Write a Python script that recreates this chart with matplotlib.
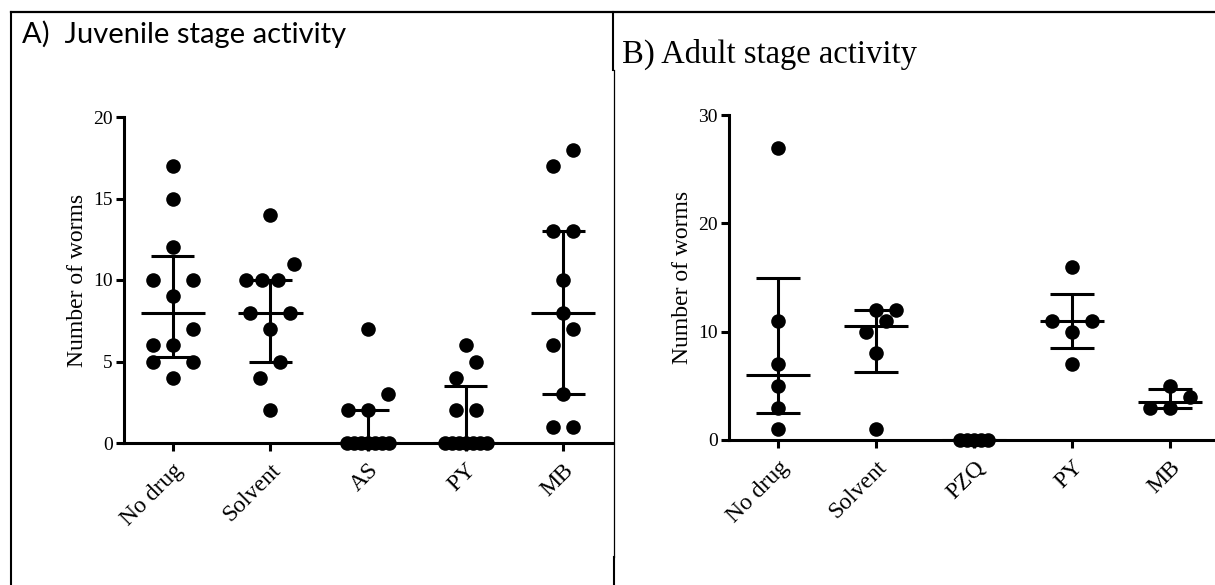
import matplotlib
matplotlib.use("Agg")
import matplotlib.pyplot as plt
import numpy as np
from matplotlib.lines import Line2D

# juvenile stage (panel A)
juv_groups = ["No drug", "Solvent", "AS", "PY", "MB"]
juv_no_drug = [17, 15, 12, 10, 10, 9, 7, 6, 6, 5, 5, 4]
juv_solvent = [14, 11, 10, 10, 10, 8, 8, 7, 5, 4, 2]
juv_as = [7, 3, 2, 2, 0, 0, 0, 0, 0, 0, 0]
juv_py = [6, 5, 4, 2, 2, 0, 0, 0, 0, 0, 0, 0]
juv_mb = [18, 17, 13, 13, 10, 8, 7, 6, 3, 1, 1]
juv_yticks = [0, 5, 10, 15, 20]

# adult stage (panel B)
adult_groups = ["No drug", "Solvent", "PZQ", "PY", "MB"]
adult_no_drug = [27, 11, 7, 5, 3, 1]
adult_solvent = [12, 12, 11, 10, 8, 1]
adult_pzq = [0, 0, 0, 0, 0]
adult_py = [16, 11, 11, 10, 7]
adult_mb = [5, 4, 3, 3]
adult_yticks = [0, 10, 20, 30]

W, H = 1215, 585
plt.rcParams["font.family"] = ["Liberation Serif", "DejaVu Serif"]

LW = 2.2


def swarm_offsets(vals, ypx, row_h=17.0, min_d=14.5):
    """Pixel x-offsets for a simple row-based beeswarm."""
    vals = np.asarray(vals, dtype=float)
    order = np.argsort(vals, kind="stable")
    rows = []
    for i in order:
        if rows and (vals[i] - vals[rows[-1][0]]) * ypx < row_h:
            rows[-1].append(i)
        else:
            rows.append([i])

    off = np.zeros(len(vals))
    placed = []
    for row in rows:
        k = len(row)
        rv = vals[row]
        if k > 3 and np.all(rv == rv[0]):
            step = 7.0
        elif k > 1:
            step = min(20.0, 48.0 / (k - 1))
        else:
            step = 0.0
        slots = sorted((np.arange(k) - (k - 1) / 2) * step, key=lambda s: (abs(s), s))
        for shift in (0, 10, -10, 20, -20, 30, -30, 40, -40):
            pos = [s + shift for s in slots]
            ok = all(
                np.hypot(p - q, (vals[i] - v) * ypx) >= min_d
                for p, i in zip(pos, row)
                for q, v in placed
            )
            if ok:
                break
        for p, i in zip(pos, row):
            off[i] = p
            placed.append((p, vals[i]))
    return off


def scatter_panel(ax, groups, data, yticks, tick_size=14, label_size=17):
    ax.set_xlim(-0.5, 4.5)
    ax.set_ylim(yticks[0], yticks[-1])
    pos = ax.get_position()
    xpx = pos.width * W / 5.0
    ypx = pos.height * H / (yticks[-1] - yticks[0])

    for j, vals in enumerate(data):
        vals = np.asarray(vals, dtype=float)
        off = swarm_offsets(vals, ypx)
        ax.plot(j + off / xpx, vals, "o", color="black", ms=10.5, mew=0,
                clip_on=False, zorder=3)
        # median with interquartile range
        q1, med, q3 = np.percentile(vals, [25, 50, 75], method="weibull")
        ax.vlines(j, q1, q3, color="black", lw=LW, zorder=4)
        ax.hlines([q1, q3], j - 0.22, j + 0.22, color="black", lw=LW, zorder=4)
        ax.hlines(med, j - 0.33, j + 0.33, color="black", lw=LW, zorder=4)

    for side in ("top", "right"):
        ax.spines[side].set_visible(False)
    for side in ("left", "bottom"):
        ax.spines[side].set_linewidth(LW)
    ax.set_yticks(yticks)
    ax.set_xticks(range(len(groups)))
    ax.set_xticklabels(groups, rotation=45, ha="right", rotation_mode="anchor",
                       fontsize=label_size)
    ax.tick_params(axis="both", direction="out", length=6, width=LW, color="black")
    ax.tick_params(axis="y", labelsize=tick_size, pad=2)
    ax.tick_params(axis="x", pad=6)
    ax.set_ylabel("Number of worms", fontsize=label_size, labelpad=4)


fig = plt.figure(figsize=(W / 100, H / 100), dpi=100)

ax_a = fig.add_axes([124 / W, 1 - 443 / H, (612 - 124) / W, (443 - 117) / H])
scatter_panel(ax_a, juv_groups,
              [juv_no_drug, juv_solvent, juv_as, juv_py, juv_mb], juv_yticks)

ax_b = fig.add_axes([729 / W, 1 - 440 / H, 490 / W, (440 - 115) / H])
scatter_panel(ax_b, adult_groups,
              [adult_no_drug, adult_solvent, adult_pzq, adult_py, adult_mb],
              adult_yticks)

# panel titles
fig.text(22 / W, 1 - 43 / H, "A)  Juvenile stage activity", fontsize=21,
         family=["Lato", "DejaVu Sans"], va="baseline", ha="left")
fig.text(622 / W, 1 - 63 / H, "B) Adult stage activity", fontsize=23.5,
         va="baseline", ha="left")

# table borders around the two panels
fig.add_artist(Line2D([11 / W, 1], [1 - 12 / H, 1 - 12 / H], color="black", lw=1.6))
fig.add_artist(Line2D([11 / W, 11 / W], [0, 1 - 12 / H], color="black", lw=1.5))
fig.add_artist(Line2D([613 / W, 613 / W], [1 - 70 / H, 1 - 12 / H], color="black", lw=1.5))
fig.add_artist(Line2D([614 / W, 614 / W], [1 - 557 / H, 1 - 70 / H], color="black", lw=0.9))
fig.add_artist(Line2D([614 / W, 614 / W], [0, 1 - 557 / H], color="black", lw=1.5))

fig.savefig("out.png", dpi=100)
